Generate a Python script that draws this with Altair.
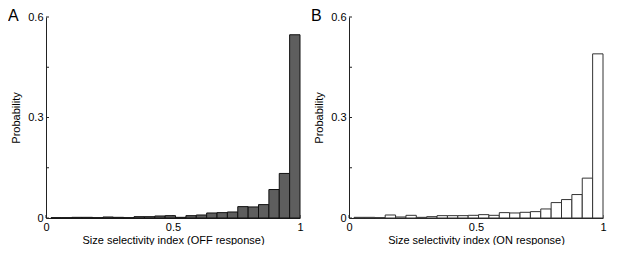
import altair as alt
import numpy as np
import pandas as pd

# 24 histogram bins (matlab hist style, spanning data range ~0.02..1)
bin_edges = np.linspace(0.02, 1.0, 25)

prob_off = [0.001, 0.001, 0.002, 0.002, 0.001, 0.003, 0.002, 0.001,
            0.004, 0.004, 0.006, 0.007, 0.002, 0.007, 0.009, 0.015,
            0.016, 0.018, 0.034, 0.033, 0.040, 0.085, 0.133, 0.547]
prob_on = [0.002, 0.002, 0.001, 0.009, 0.003, 0.008, 0.002, 0.004,
           0.007, 0.007, 0.007, 0.008, 0.010, 0.008, 0.016, 0.015,
           0.017, 0.019, 0.027, 0.046, 0.055, 0.070, 0.119, 0.490]

x_label_values = [0, 0.5, 1]
y_label_values = [0, 0.3, 0.6]
y_tick_values = [0, 0.15, 0.3, 0.45, 0.6]
x_tick_values = [0, 0.5, 1]

FONT = "Liberation Sans"
W, H = 254, 201
AXIS_COLOR = "#222222"


def panel(values, fill, stroke, letter, xtitle):
    df = pd.DataFrame({"lo": bin_edges[:-1], "hi": bin_edges[1:], "p": values})
    xscale = alt.Scale(domain=[0, 1], nice=False, zero=False)
    yscale = alt.Scale(domain=[0, 0.6], nice=False)
    xaxis = alt.Axis(values=x_label_values, format="~g", title=xtitle,
                     labelFlush=False, ticks=False, grid=False,
                     labelPadding=3, titlePadding=2)
    yaxis = alt.Axis(values=y_label_values, format="~g", title="Probability",
                     ticks=False, grid=False, labelPadding=3, titlePadding=6)

    yt = pd.DataFrame({"t": y_tick_values})
    xt = pd.DataFrame({"t": x_tick_values})
    yticks = alt.Chart(yt).mark_rule(color=AXIS_COLOR, strokeWidth=1).encode(
        y=alt.Y("t:Q", scale=yscale, axis=yaxis),
        x=alt.value(0), x2=alt.value(3))
    xticks = alt.Chart(xt).mark_rule(color=AXIS_COLOR, strokeWidth=1).encode(
        x=alt.X("t:Q", scale=xscale, axis=xaxis),
        y=alt.value(H), y2=alt.value(H - 3))
    bars = alt.Chart(df).mark_rect(fill=fill, stroke=stroke, strokeWidth=1).encode(
        x=alt.X("lo:Q", scale=xscale, axis=xaxis),
        x2="hi:Q",
        y=alt.Y("p:Q", scale=yscale, axis=yaxis),
        y2=alt.datum(0))
    lab = alt.Chart(pd.DataFrame({"label": [letter]})).mark_text(
        align="left", baseline="top", fontSize=16, font=FONT, color="black"
    ).encode(text="label:N", x=alt.value(-38), y=alt.value(-9))
    return alt.layer(yticks, xticks, bars, lab).properties(width=W, height=H)


a = panel(prob_off, "#5e5e5e", "#111111", "A", "Size selectivity index (OFF response)")
b = panel(prob_on, "#ffffff", "#333333", "B", "Size selectivity index (ON response)")

chart = alt.hconcat(a, b, spacing=49, bounds="flush").properties(
    padding=0, background="white"
).configure_view(stroke=None).configure_axis(
    labelFont=FONT, titleFont=FONT, labelFontSize=11, titleFontSize=11,
    titleFontWeight="normal", labelColor="black", titleColor="black",
    domainColor=AXIS_COLOR, domainWidth=1
)

chart.save("out.html", embed_options={"renderer": "svg", "actions": False})
